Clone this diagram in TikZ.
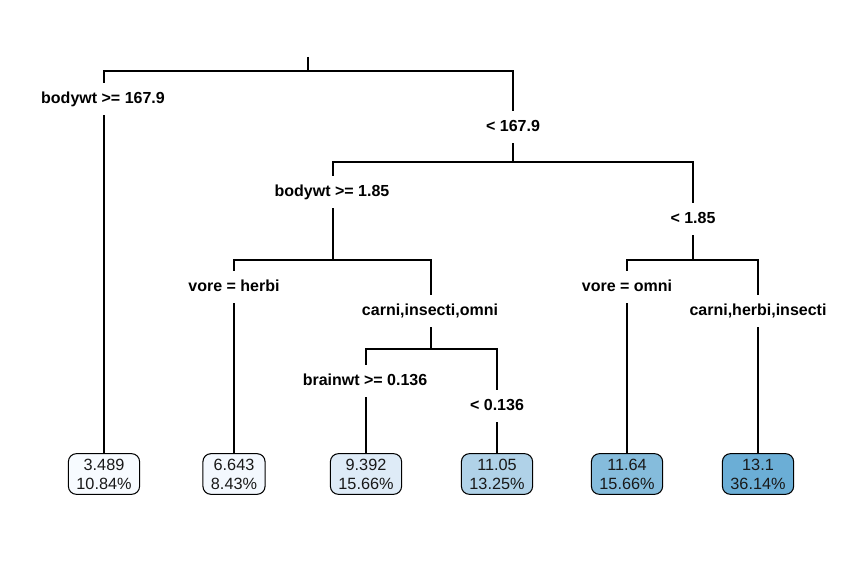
\documentclass[tikz,border=0pt]{standalone}
\usepackage{fontspec}
\setmainfont{Liberation Sans}

\definecolor{leaf-1}{HTML}{F7FBFF}
\definecolor{leaf-2}{HTML}{F3F8FE}
\definecolor{leaf-3}{HTML}{DEEBF7}
\definecolor{leaf-4}{HTML}{B0D2E8}
\definecolor{leaf-5}{HTML}{85BCDC}
\definecolor{leaf-6}{HTML}{6BAED6}

\tikzset{%
  every leaf/.style={
    rectangle,
    draw,
    rounded corners=6pt,
    align=center,
    inner xsep=6pt,
    inner ysep=1pt,
    minimum height=30.5pt,
    text=black!90,
    font=\fontsize{12.2}{14.3}\selectfont
  },
  every split/.style={
    fill=white,
    inner xsep=1pt,
    inner ysep=6pt,
    text height=9pt,
    text depth=2.5pt,
    font=\fontsize{12}{14}\selectfont\bfseries
  },
}

\begin{document}
\begin{tikzpicture}[x=0.75pt, y=-0.75pt, line width=0.8pt]

\useasboundingbox (0,0) rectangle (867,573);

% leaves
\foreach \x/\v/\p [count=\i] in {104/3.489/10.84, 234/6.643/8.43,
    366/9.392/15.66, 497/11.05/13.25, 627/11.64/15.66, 758/13.1/36.14}
  \node [every leaf, fill=leaf-\i] (leaf-\i) at (\x,474) {\v\\\p\%};

% split points
\coordinate (top) at (308,57);
\coordinate (n1) at (308,71);
\coordinate (n2) at (513,162);
\coordinate (n3) at (333,260);
\coordinate (n4) at (431,349);
\coordinate (n5) at (693,260);

\draw (top) -- (n1);
\draw (n1) -| (leaf-1);
\draw (n1) -| (n2);
\draw (n2) -| (n3);
\draw (n2) -| (n5);
\draw (n3) -| (leaf-2);
\draw (n3) -| (n4);
\draw (n4) -| (leaf-3);
\draw (n4) -| (leaf-4);
\draw (n5) -| (leaf-5);
\draw (n5) -| (leaf-6);

% split labels
\foreach \x/\y/\l [count=\i] in {103/99/bodywt >= 167.9, 513/127/< 167.9,
    332/192/bodywt >= 1.85, 693/219/< 1.85,
    234/287/vore = herbi, 430/311/{carni,insecti,omni},
    365/381/brainwt >= 0.136, 497/406/< 0.136,
    627/287/vore = omni, 758/311/{carni,herbi,insecti}}
  \node [every split] (split-\i) at (\x,\y) {\l};

\end{tikzpicture}
\end{document}
